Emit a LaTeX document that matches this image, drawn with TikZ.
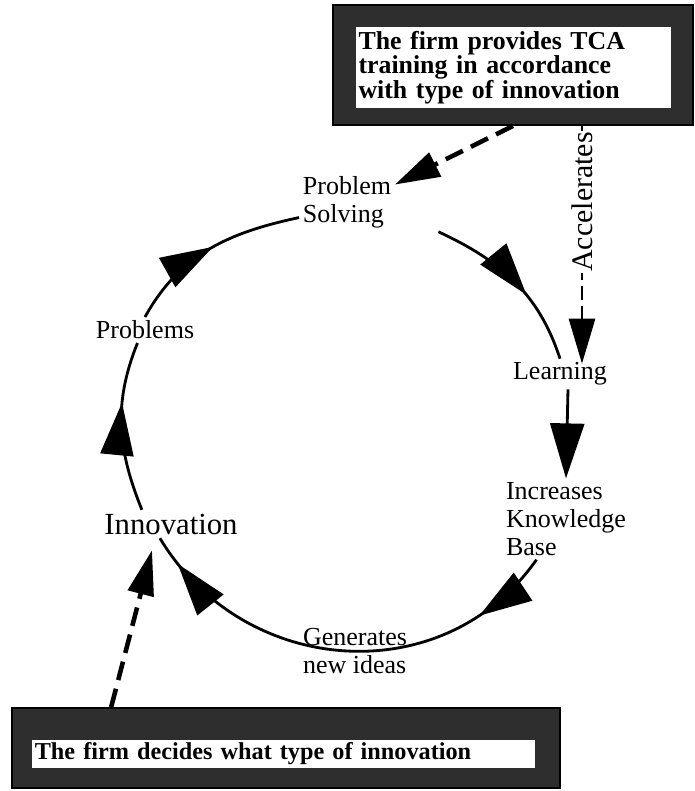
\documentclass[tikz,border=0pt]{standalone}
\usepackage{fontspec}
\setmainfont{Liberation Serif}
\usetikzlibrary{arrows.meta,decorations.markings}

\tikzset{
    lbl/.style={font=\fontsize{14.8}{16}\selectfont, align=left, inner sep=2pt},
    cyc/.style={line width=1.6pt},
    bigtip/.style={-{Triangle[length=1.1cm, width=0.68cm]}},
    midtip/.style={postaction={decorate, decoration={markings,
        mark=at position #1 with {\arrow{Triangle[length=1.05cm, width=0.66cm]}}}}},
    darkbox/.style={draw=black, fill=black!82, line width=1pt},
    whitebox/.style={fill=white, inner xsep=1.5pt, inner ysep=0pt, align=left,
        font=\bfseries\fontsize{14.7}{14}\selectfont},
    dasharrow/.style={line width=2.6pt, dash pattern=on 0.38cm off 0.18cm,
        -{Triangle[length=0.9cm, width=0.52cm]}},
}

\begin{document}
\begin{tikzpicture}[x=0.02cm, y=-0.02cm]
    \useasboundingbox (0,0) rectangle (694,791);

    % Box on top
    \node[darkbox, minimum width=7.2cm, minimum height=2.4cm] (tcabox) at (513,65) {};
    \node[whitebox, text width=6.2cm, minimum height=1.62cm] (tcatext) at (513.5,67.5)
        {The firm provides TCA\\training in accordance\\with type of innovation};

    % Box at the bottom
    \node[darkbox, minimum width=10.96cm, minimum height=1.6cm] (typebox) at (286,748) {};
    \node[whitebox, text width=9.95cm, minimum height=0.56cm, font=\bfseries\fontsize{13.8}{14}\selectfont]
        (typetext) at (283.5,754) {The firm decides what type of innovation};

    % Labels round the cycle
    \node[lbl] (ps) at (347,202) {Problem\\Solving};
    \node[lbl] (learn) at (560,374) {Learning};
    \node[lbl] (incr) at (566,519) {Increases\\Knowledge\\Base};
    \node[lbl, font=\fontsize{17.5}{19}\selectfont] (innov) at (171,524) {Innovation};
    \node[lbl] (prob) at (145,330) {Problems};
    \coordinate (acctip) at ([xshift=0.44cm, yshift=-0.1cm]learn.north);

    % The cycle
    \draw[cyc, midtip=0.52] (prob.north) to[out=61, in=192] (ps.198);
    \draw[cyc, midtip=0.6] ([xshift=0.87cm]ps.south east) to[out=-25, in=108] (learn.north);
    \draw[cyc, bigtip] ([xshift=0.16cm]learn.south) -- (incr.north);
    \draw[cyc, midtip=0.18, midtip=0.93] (incr.-126) to[out=-125, in=-59, looseness=1.1] (innov.-128);
    \draw[cyc, midtip=0.64] (innov.154) to[out=112, in=248] (prob.-120);

    \node[lbl] (gen) at (355,651) {Generates\\new ideas};

    % Dashed influences
    \draw[dasharrow] (tcabox.south) -- (ps.20);
    \draw[dasharrow, line width=1.6pt, dash pattern=on 0.28cm off 0.12cm]
        (tcabox.south -| acctip) --
        node[pos=0.32, rotate=90, fill=white, inner sep=1pt, font=\fontsize{17}{19}\selectfont] (acc) {Accelerates}
        (acctip);
    \draw[dasharrow] ([xshift=2cm]typebox.north west) -- ([xshift=-0.38cm, yshift=-0.24cm]innov.south);

\end{tikzpicture}
\end{document}
